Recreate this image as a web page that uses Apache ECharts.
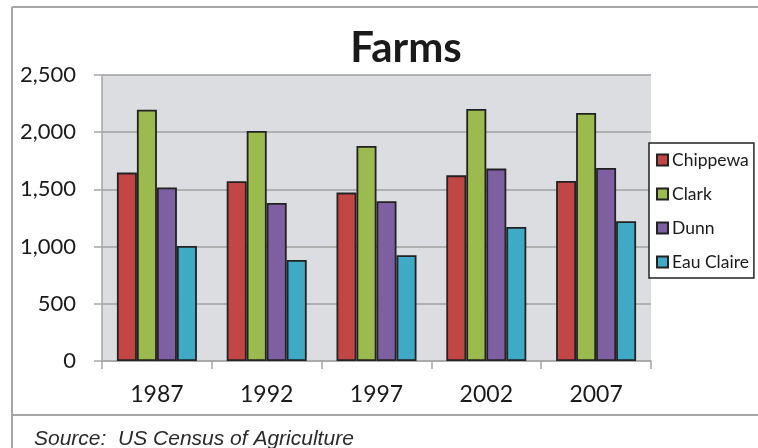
<!DOCTYPE html>
<html>
<head>
<meta charset="utf-8">
<script src="https://cdn.jsdelivr.net/npm/echarts@6/dist/echarts.min.js"></script>
<style>
  html, body { margin: 0; padding: 0; background: #ffffff; }
  #chart { width: 758px; height: 448px; }
</style>
</head>
<body>
<div id="chart"></div>
<script>
// Census years on the category axis
const years = ['1987', '1992', '1997', '2002', '2007'];

// Number of farms per county
const chippewa  = [1647, 1571, 1472, 1623, 1573];
const clark     = [2197, 2010, 1879, 2203, 2168];
const dunn      = [1516, 1381, 1396, 1682, 1687];
const eauClaire = [1005,  883,  924, 1171, 1221];

// Value axis ticks
const yTicks = [0, 500, 1000, 1500, 2000, 2500];

const countyNames = ['Chippewa', 'Clark', 'Dunn', 'Eau Claire'];
const countyValues = [chippewa, clark, dunn, eauClaire];
const countyColors = ['#c24644', '#9bbb4f', '#7e5fa2', '#3eaac6'];

const chart = echarts.init(document.getElementById('chart'), null, { renderer: 'canvas' });

const frameColor = '#a6a6a6';

chart.setOption({
  backgroundColor: '#ffffff',
  animation: false,
  title: {
    text: 'Farms',
    left: 401,
    textAlign: 'center',
    top: 22,
    textStyle: { fontFamily: 'Lato', fontWeight: 'bold', fontSize: 42, color: '#1a1a1a' }
  },
  legend: {
    orient: 'vertical',
    left: 649,
    top: 143,
    padding: [7, 5, 6, 7],
    itemWidth: 11,
    itemHeight: 11,
    itemGap: 14,
    icon: 'rect',
    borderColor: '#222222',
    borderWidth: 1.5,
    backgroundColor: '#ffffff',
    textStyle: { fontFamily: 'Lato', fontSize: 17.5, color: '#1a1a1a', lineHeight: 20, padding: [0, 0, 0, -1] },
    data: countyNames
  },
  grid: {
    left: 102,
    right: 107,
    top: 75,
    bottom: 87,
    show: true,
    backgroundColor: '#dcdde0',
    borderWidth: 0
  },
  xAxis: {
    type: 'category',
    data: years,
    axisLine: { show: true, lineStyle: { color: frameColor, width: 1.5 } },
    axisTick: { show: true, length: 8, lineStyle: { color: frameColor, width: 1.5 } },
    axisLabel: { margin: 22, fontFamily: 'Lato', fontSize: 23, color: '#1a1a1a' }
  },
  yAxis: {
    type: 'value',
    min: 0,
    max: 2500,
    interval: 500,
    axisLine: { show: true, lineStyle: { color: frameColor, width: 1.5 } },
    axisTick: { show: true, length: 8, lineStyle: { color: frameColor, width: 1.5 } },
    splitLine: { show: true, lineStyle: { color: '#a0a0a0', width: 1.5 } },
    axisLabel: {
      margin: 26,
      fontFamily: 'Lato',
      fontSize: 22,
      color: '#1a1a1a',
      customValues: yTicks,
      formatter: v => v.toLocaleString('en-US')
    }
  },
  series: countyNames.map((name, i) => ({
    name: name,
    type: 'bar',
    data: countyValues[i],
    barWidth: 20,
    barGap: '0%',
    itemStyle: { color: countyColors[i], borderColor: '#222222', borderWidth: 1.8 }
  })),
  graphic: [
    // outer frame: left edge, top edge and footer divider
    { type: 'line', shape: { x1: 12, y1: 7, x2: 12, y2: 448 }, style: { stroke: frameColor, lineWidth: 2 } },
    { type: 'line', shape: { x1: 12, y1: 7, x2: 758, y2: 7 }, style: { stroke: frameColor, lineWidth: 2 } },
    { type: 'line', shape: { x1: 12, y1: 415, x2: 758, y2: 415 }, style: { stroke: frameColor, lineWidth: 2 } },
    {
      type: 'text',
      x: 34,
      y: 429,
      style: {
        text: 'Source:  US Census of Agriculture',
        font: 'italic 21px "Liberation Sans", Arial, sans-serif',
        fill: '#2a2a2a'
      }
    }
  ]
});
</script>
</body>
</html>
